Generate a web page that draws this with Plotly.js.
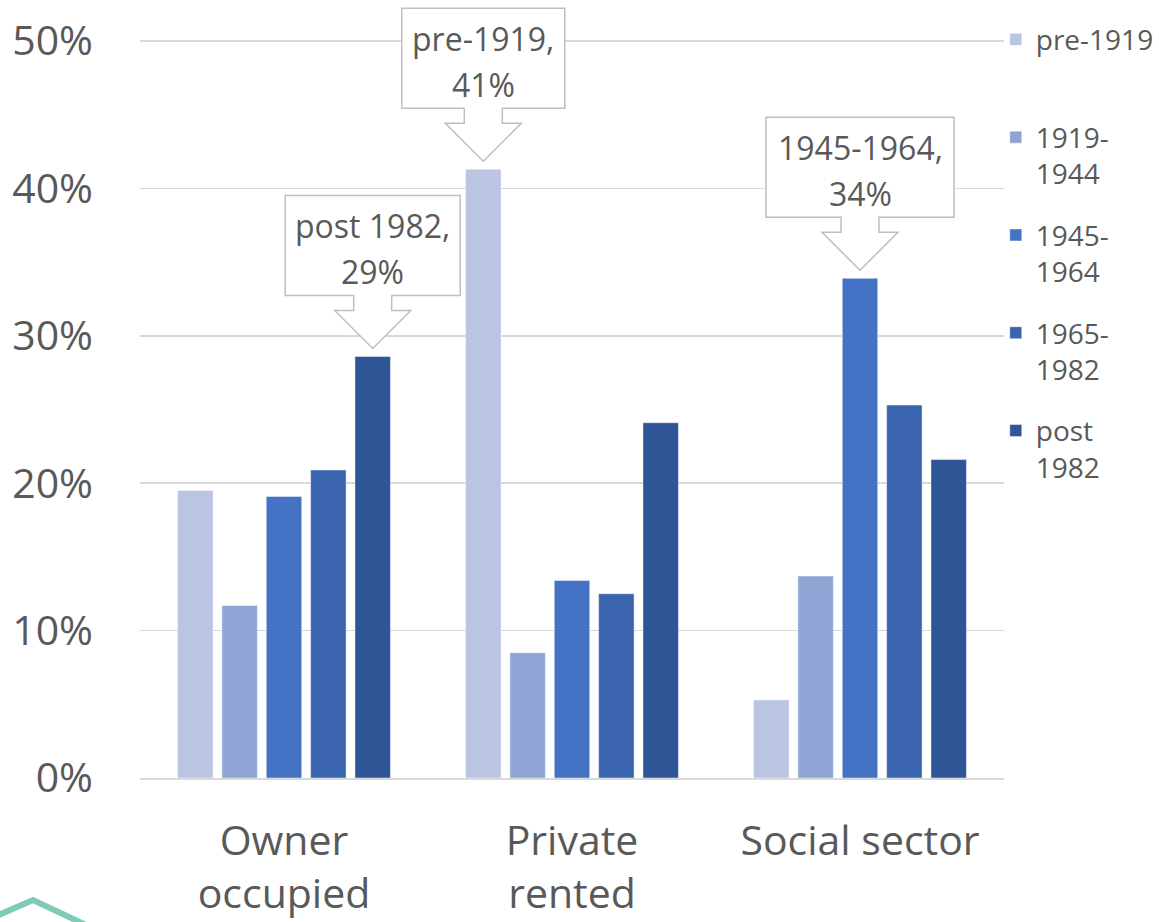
<!DOCTYPE html>
<html>
<head>
<meta charset="utf-8">
<script src="https://cdn.plot.ly/plotly-3.0.1.min.js"></script>
<style>
  html, body { margin: 0; padding: 0; background: #ffffff; }
  #chart { width: 1159px; height: 922px; }
</style>
</head>
<body>
<div id="chart"></div>
<script>
// ---- Data ----
const categories = ['Owner<br>occupied', 'Private<br>rented', 'Social sector'];
const seriesNames = ['pre-1919', '1919-1944', '1945-1964', '1965-1982', 'post 1982'];
const legendLabels = ['pre-1919<br>&nbsp;', '1919-<br>1944', '1945-<br>1964', '1965-<br>1982', 'post<br>1982'];
const pre1919   = [0.195, 0.413, 0.053];
const y1919_1944 = [0.117, 0.085, 0.137];
const y1945_1964 = [0.191, 0.134, 0.339];
const y1965_1982 = [0.209, 0.125, 0.253];
const post1982  = [0.286, 0.241, 0.216];
const seriesValues = [pre1919, y1919_1944, y1945_1964, y1965_1982, post1982];
const yTickVals = [0, 0.1, 0.2, 0.3, 0.4, 0.5];
const yTickText = ['0%', '10%', '20%', '30%', '40%', '50%'];

// callouts: which series / which category
const calloutSeries = [4, 0, 2];
const calloutCategory = [0, 1, 2];

// ---- Styles ----
const colors = ['#BAC4E3', '#8FA4D4', '#4472C4', '#3A64AE', '#2F5597'];
const textColor = '#595959';
const fontFamily = 'Open Sans, Noto Sans, sans-serif';
const bargap = 0.23;
const calloutBoxWidth = [175, 163, 188];
const yTop = 0.5 + 36 / 1474;   // extra headroom above the 50% gridline

const traces = seriesValues.map((vals, i) => ({
  type: 'bar',
  name: legendLabels[i],
  x: categories,
  y: vals,
  marker: { color: colors[i], line: { color: 'rgba(255,255,255,0.45)', width: 1 } },
  legendgroup: 'g' + i,
  hoverinfo: 'skip'
}));

const nSeries = seriesValues.length;
const slot = (1 - bargap) / nSeries;

const shapes = [];
const annotations = [];
calloutSeries.forEach((s, k) => {
  const c = calloutCategory[k];
  const xc = c + (s - (nSeries - 1) / 2) * slot;
  const val = seriesValues[s][c];
  const hw = calloutBoxWidth[k] / 2;
  const path = [
    'M0,8', 'L-38,46', 'L-19,46', 'L-19,61', `L${-hw},61`, `L${-hw},161`,
    `L${hw},161`, `L${hw},61`, 'L19,61', 'L19,46', 'L38,46', 'Z'
  ].join(' ');
  shapes.push({
    type: 'path', xref: 'x', yref: 'y',
    xsizemode: 'pixel', ysizemode: 'pixel',
    xanchor: xc, yanchor: val,
    path: path,
    fillcolor: '#ffffff',
    line: { color: '#BFBFBF', width: 1.5 },
    layer: 'above'
  });
  const lines = [seriesNames[s] + ',', Math.round(val * 100) + '%'];
  const shifts = [131, 85];
  lines.forEach((t, li) => {
    annotations.push({
      xref: 'x', yref: 'y', x: xc, y: val,
      text: t, showarrow: false,
      xanchor: 'center', yanchor: 'middle',
      yshift: shifts[li],
      font: { family: fontFamily, size: 32, color: textColor }
    });
  });
});

// decorative logo fragment at bottom-left
shapes.push({
  type: 'path', xref: 'paper', yref: 'paper',
  xsizemode: 'pixel', ysizemode: 'pixel',
  xanchor: -140 / 864, yanchor: -144 / 773,
  path: 'M-6,5 L33,22 L86,-3',
  line: { color: '#7ECBB9', width: 6 },
  layer: 'above'
});

const layout = {
  width: 1159, height: 922,
  margin: { l: 140, r: 155, t: 5, b: 144, autoexpand: false },
  paper_bgcolor: '#ffffff', plot_bgcolor: '#ffffff',
  barmode: 'group', bargap: bargap, bargroupgap: 0.2,
  font: { family: fontFamily, color: textColor },
  showlegend: true,
  legend: {
    x: 0.9905, xanchor: 'left', y: 0.9875, yanchor: 'top',
    font: { family: fontFamily, size: 28, color: textColor },
    traceorder: 'grouped', tracegroupgap: 22,
    valign: 'top', bgcolor: 'rgba(0,0,0,0)'
  },
  xaxis: {
    type: 'category',
    showgrid: false, showline: true, linecolor: '#D9D9D9', linewidth: 1.5,
    ticks: '', ticklabelstandoff: 26,
    tickfont: { family: fontFamily, size: 41, color: textColor },
    fixedrange: true
  },
  yaxis: {
    range: [0, yTop], tickvals: yTickVals, ticktext: yTickText,
    showgrid: true, gridcolor: '#D9D9D9', gridwidth: 1.5,
    zeroline: false, showline: false, ticks: '',
    ticklabelstandoff: 46,
    tickfont: { family: fontFamily, size: 41, color: textColor },
    fixedrange: true
  },
  shapes: shapes,
  annotations: annotations
};

Plotly.newPlot('chart', traces, layout, { displayModeBar: false, staticPlot: true });
</script>
</body>
</html>
